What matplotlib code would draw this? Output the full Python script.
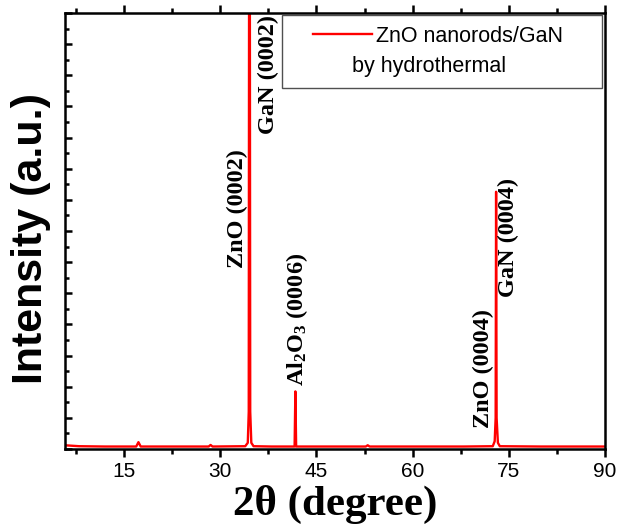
import matplotlib
matplotlib.use("Agg")
import matplotlib.pyplot as plt
from matplotlib.lines import Line2D
from matplotlib.legend_handler import HandlerLine2D
from matplotlib.ticker import MultipleLocator, NullFormatter

plt.rcParams['font.family'] = ['Liberation Sans', 'DejaVu Sans']
plt.rcParams['mathtext.fontset'] = 'custom'
plt.rcParams['mathtext.rm'] = 'Liberation Serif:bold'
plt.rcParams['mathtext.it'] = 'Liberation Serif:bold'
plt.rcParams['mathtext.bf'] = 'Liberation Serif:bold'

# XRD pattern (a.u.)
two_theta = [5.8, 8, 12, 16.9, 17.25, 17.6, 22, 28.2, 28.5, 28.8,
             33.9, 34.3, 34.45, 34.52, 34.6, 34.68, 34.85, 35.2,
             38, 41.6, 41.72, 41.84, 46, 52.7, 53.0, 53.3, 60, 68,
             72.5, 72.8, 72.95, 73.02, 73.1, 73.3, 73.6, 80, 90]
intensity = [0.12, 0.09, 0.08, 0.08, 0.22, 0.08, 0.08, 0.08, 0.13, 0.08,
             0.09, 0.2, 1.2, 20.0, 20.0, 1.2, 0.2, 0.09,
             0.08, 0.08, 1.85, 0.08, 0.08, 0.08, 0.12, 0.08, 0.08, 0.08,
             0.09, 0.25, 1.0, 8.26, 1.0, 0.2, 0.09, 0.08, 0.08]

peak_names = ["ZnO (0002)", "GaN (0002)", r"Al$_2$O$_3$ (0006)",
              "ZnO (0004)", "GaN (0004)"]
peak_x = [32.66, 37.5, 42.03, 71.1, 75.0]
peak_y = [7.71, 12.02, 4.16, 2.58, 6.8]

fig = plt.figure(figsize=(6.3, 5.3), dpi=100)
ax = fig.add_axes([0.1032, 0.1528, 0.8571, 0.8226])

line, = ax.plot(two_theta, intensity, color='red', lw=1.7)

for name, x, y in zip(peak_names, peak_x, peak_y):
    ax.text(x, y, name, rotation=90, ha='center', va='center',
            fontsize=17.5, fontweight='bold', family='Liberation Serif')

ax.set_xlim(5.8, 90)
ax.set_ylim(0, 14)
ax.xaxis.set_major_locator(MultipleLocator(15))
ax.xaxis.set_minor_locator(MultipleLocator(7.5))
ax.yaxis.set_major_locator(MultipleLocator(1))
ax.yaxis.set_minor_locator(MultipleLocator(0.5))
ax.yaxis.set_major_formatter(NullFormatter())

for sp in ax.spines.values():
    sp.set_linewidth(1.8)

ax.tick_params(axis='x', which='both', direction='out', top=True, bottom=True,
               width=1.8, labelsize=15, pad=4)
ax.tick_params(axis='x', which='major', length=5.5)
ax.tick_params(axis='x', which='minor', length=3.3)
ax.tick_params(axis='y', which='both', direction='in', left=True, right=False,
               width=1.8, labelleft=False)
ax.tick_params(axis='y', which='major', length=5.2)
ax.tick_params(axis='y', which='minor', length=3.0)

ax.set_xlabel("2θ (degree)", fontsize=31, fontweight='bold',
              family='Liberation Serif', labelpad=3)
ax.set_ylabel("Intensity (a.u.)", fontsize=31, fontweight='bold')
ax.yaxis.set_label_coords(-0.026, 0.484)

blank = Line2D([], [], color='none')
leg = ax.legend([line, blank], ["ZnO nanorods/GaN", "by hydrothermal"],
                handler_map={line: HandlerLine2D(marker_pad=0.94, numpoints=2)},
                loc='upper left', bbox_to_anchor=(0.402, 0, 0.5926, 0.9954),
                mode='expand', borderaxespad=0, borderpad=0.5,
                labelspacing=0.42, handlelength=4.63, handletextpad=-0.756,
                fontsize=15.5, fancybox=False, edgecolor='#505050',
                framealpha=1)
leg.get_frame().set_linewidth(1.0)
leg.get_texts()[1].set_x(-24)

fig.savefig("out.png", dpi=100)
